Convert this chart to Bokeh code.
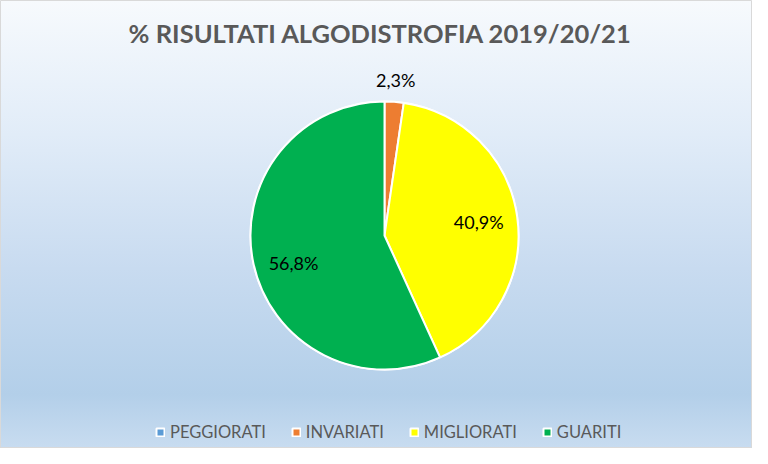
import math
from bokeh.plotting import figure
from bokeh.models import Range1d, ColumnDataSource, Legend, LegendItem, Label
from bokeh.core.properties import value
from bokeh.embed import file_html
from bokeh.resources import INLINE

title_text = "% RISULTATI ALGODISTROFIA 2019/20/21"
categories = ["PEGGIORATI", "INVARIATI", "MIGLIORATI", "GUARITI"]
values = [0.0, 2.3, 40.9, 56.8]
colors = ["#5B9BD5", "#ED7D31", "#FFFF00", "#00B050"]

W, H = 752, 448
CX, CY, R = 384, H - 235, 134

total = sum(values)
starts, ends = [], []
cum = 0.0
for v in values:
    starts.append(math.pi / 2 - 2 * math.pi * cum / total)
    cum += v
    ends.append(math.pi / 2 - 2 * math.pi * cum / total)

labels = [("%.1f" % v).replace(".", ",") + "%" for v in values]

src = ColumnDataSource(dict(cat=categories, val=values, color=colors,
                            start=starts, end=ends))

p = figure(width=W, height=H, x_range=Range1d(0, W), y_range=Range1d(0, H),
           output_backend="svg", toolbar_location=None, min_border=0,
           x_axis_location=None, y_axis_location=None)
p.grid.visible = False
p.outline_line_color = "#d9d9d9"
p.background_fill_alpha = 0
p.border_fill_alpha = 0
p.styles = {"background": "linear-gradient(to bottom, #f7fafd 0%, #e1ecf8 30%, #c8dbf0 60%, #b3cfe9 88%, #c8dcf0 100%)"}

r = p.wedge(x=CX, y=CY, radius=R, radius_units="screen",
            start_angle="start", end_angle="end", direction="clock",
            fill_color="color", line_color="white", line_width=2, source=src)

# data labels
lx, ly, lt = [], [], []
for v, s, e, t in zip(values, starts, ends, labels):
    if v <= 0:
        continue
    mid = (s + e) / 2
    small = v / total < 0.05
    frac = 1.16 if small else 0.71
    if not small and mid < -math.pi / 2:
        mid += 0.085
    lx.append(CX + frac * R * math.cos(mid))
    ly.append(CY + frac * R * math.sin(mid))
    lt.append(t)
p.text(x=lx, y=ly, text=lt, text_align="center", text_baseline="middle",
       text_font=value("Lato"), text_font_size="18px", text_color="#000000")

p.add_layout(Label(x=W / 2 + 4, y=H - 32, text=title_text, text_align="center",
                   text_baseline="middle", text_font="Lato",
                   text_font_style="bold", text_font_size="25.5px",
                   text_color="#595959"))

items = [LegendItem(label=c, renderers=[r], index=i) for i, c in enumerate(categories)]
legend = Legend(items=items, orientation="horizontal", location=(155, 6),
                glyph_width=10, glyph_height=10, label_standoff=5, spacing=25,
                padding=0, margin=0, border_line_color=None,
                background_fill_alpha=0, label_text_font="Lato",
                label_text_font_size="16.5px", label_text_color="#595959")
p.add_layout(legend, "center")

open("out.html", "w").write(file_html(p, INLINE))
